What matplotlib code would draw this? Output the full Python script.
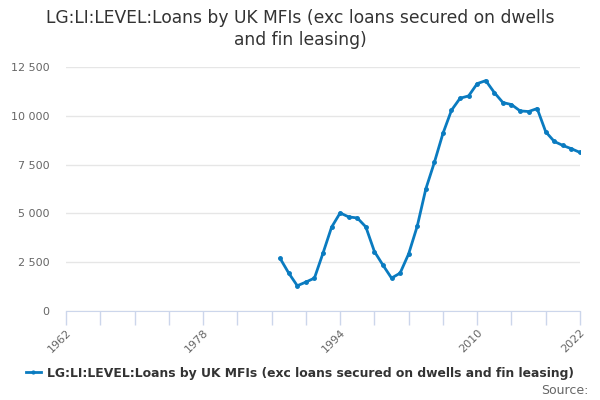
import matplotlib
matplotlib.use("Agg")
import matplotlib.pyplot as plt
from matplotlib.ticker import FuncFormatter

years = list(range(1987, 2023))
values = [2691, 1941, 1294, 1482, 1686, 2963, 4292, 5024, 4819, 4768,
          4308, 3048, 2350, 1686, 1941, 2929, 4343, 6250, 7612, 9094,
          10286, 10899, 11018, 11648, 11802, 11189, 10678, 10576, 10252, 10218,
          10371, 9179, 8685, 8481, 8311, 8123]
xticks = list(range(1962, 2023, 4))
xlabels = ["1962", "1978", "1994", "2010", "2022"]
yticks = [0, 2500, 5000, 7500, 10000, 12500]
series_name = "LG:LI:LEVEL:Loans by UK MFIs (exc loans secured on dwells and fin leasing)"

line_col = "#0a7bc0"

fig = plt.figure(figsize=(6, 4), dpi=100)
ax = fig.add_axes([66 / 600, 1 - 311 / 400, 514 / 600, 244 / 400])

ax.plot(years, values, color=line_col, lw=2, marker="o", ms=2.5, label=series_name)

ax.set_xlim(1962, 2022)
ax.set_ylim(0, 12500)
ax.set_xticks(xticks)
ax.set_xticklabels([str(y) if str(y) in xlabels else "" for y in xticks],
                   rotation=45, ha="right", rotation_mode="anchor")
ax.set_yticks(yticks)
ax.yaxis.set_major_formatter(FuncFormatter(lambda v, p: f"{int(v):,}".replace(",", " ")))

ax.grid(axis="y", color="#e6e6e6", lw=1)
ax.set_axisbelow(True)
for s in ["top", "right", "left"]:
    ax.spines[s].set_visible(False)
ax.spines["bottom"].set_color("#ccd6eb")
ax.tick_params(axis="x", colors="#ccd6eb", length=10, width=1, labelcolor="#666666",
               labelsize=8, pad=2)
ax.tick_params(axis="y", length=0, labelcolor="#666666", labelsize=8, pad=12)
ax.spines["bottom"].set_clip_on(False)

fig.text(0.5, 1 - 18 / 400, "LG:LI:LEVEL:Loans by UK MFIs (exc loans secured on dwells",
         ha="center", va="center", fontsize=12.3, color="#333333")
fig.text(0.5, 1 - 40 / 400, "and fin leasing)", ha="center", va="center",
         fontsize=12.3, color="#333333")

leg = fig.legend(loc="center", bbox_to_anchor=(0.5, 1 - 373 / 400), frameon=False,
                 prop={"weight": "bold", "size": 8.9}, handlelength=1.2,
                 handletextpad=0.5, markerscale=0.8)
for t in leg.get_texts():
    t.set_color("#333333")

fig.text(588 / 600, 1 - 391 / 400, "Source:", ha="right", va="center",
         fontsize=9, color="#666666")

fig.savefig("out.png", dpi=100)
